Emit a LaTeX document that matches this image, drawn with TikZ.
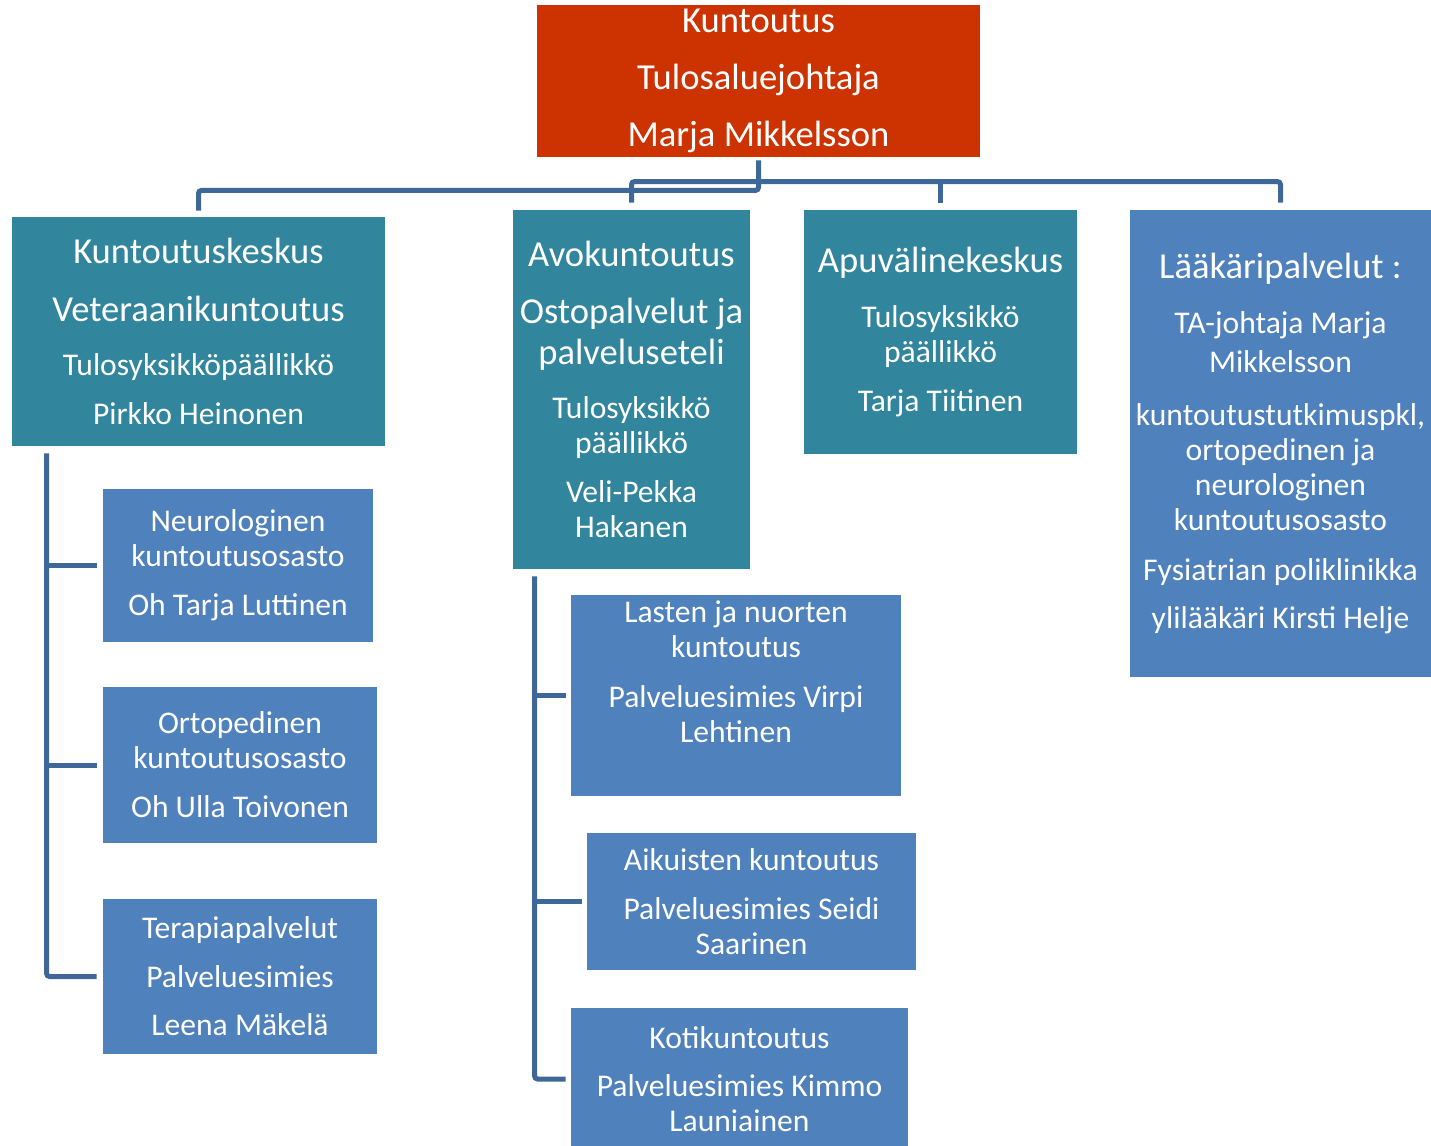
\documentclass[tikz,border=0pt]{standalone}
\usepackage{fontspec}
\setmainfont{Carlito}
\usetikzlibrary{calc}

\definecolor{punainen}{HTML}{CC3300}
\definecolor{turkoosi}{HTML}{31859C}
\definecolor{sininen}{HTML}{4F81BD}
\definecolor{viiva}{HTML}{3F6797}

\newcommand{\isot}{\fontsize{18.3}{17.5}\selectfont}
\newcommand{\pienet}{\fontsize{15.8}{17.5}\selectfont}

\tikzset{
	laatikko/.style={rectangle, inner sep=0pt, align=center, text=white, font=\pienet},
	paa/.style={laatikko, fill=punainen, font=\isot},
	yksikko/.style={laatikko, fill=turkoosi},
	osasto/.style={laatikko, fill=sininen},
	yhteys/.style={draw=viiva, line width=2.5pt, rounded corners=1.5pt}
}

\begin{document}
\begin{tikzpicture}[x=0.5pt, y=-0.5pt]
		\useasboundingbox (0,0) rectangle (1431,1146);
		% ylin taso
		\node[paa, minimum width=221.5pt, minimum height=76pt] (ylin) at (758.5,81) {Kuntoutus\\[11pt]Tulosaluejohtaja\\[11pt]Marja Mikkelsson};
		% tulosyksikot
		\node[yksikko, minimum width=186.5pt, minimum height=114.5pt] (kesk) at (198.5,331.5) {{\isot Kuntoutuskeskus}\\[11.5pt]{\isot Veteraanikuntoutus}\\[9.5pt]Tulosyksikköpäällikkö\\[7pt]Pirkko Heinonen};
		\node[yksikko, minimum width=118.5pt, minimum height=179.5pt] (avo) at (631.5,389.5) {{\isot Avokuntoutus}\\[11pt]{\isot Ostopalvelut ja}\\[3pt]{\isot palveluseteli}\\[9.5pt]Tulosyksikkö\\päällikkö\\[7pt]Veli-Pekka\\Hakanen};
		\node[yksikko, minimum width=136.5pt, minimum height=122pt] (apu) at (940.5,332) {{\isot Apuvälinekeskus}\\[10pt]Tulosyksikkö\\päällikkö\\[7pt]Tarja Tiitinen};
		\node[osasto, minimum width=150.5pt, minimum height=233.5pt] (laak) at (1280.5,443.5) {{\isot Lääkäripalvelut :}\\[10pt]TA-johtaja Marja\\[2pt]Mikkelsson\\[9pt]kuntoutustutkimuspkl,\\ortopedinen ja\\neurologinen\\kuntoutusosasto\\[7.5pt]Fysiatrian poliklinikka\\[6.5pt]ylilääkäri Kirsti Helje};
		% osastot
		\node[osasto, minimum width=135pt, minimum height=76.5pt] (neuro) at (238,565.5) {Neurologinen\\kuntoutusosasto\\[7pt]Oh Tarja Luttinen};
		\node[osasto, minimum width=137pt, minimum height=78pt] (orto) at (240,765) {Ortopedinen\\kuntoutusosasto\\[7pt]Oh Ulla Toivonen};
		\node[osasto, minimum width=137pt, minimum height=77.5pt] (terapia) at (240,976.5) {Terapiapalvelut\\[7pt]Palveluesimies\\[6.5pt]Leena Mäkelä};
		\node[osasto, minimum width=165pt, minimum height=100.5pt] (lapset) at (736,695.5) {Lasten ja nuorten\\kuntoutus\\[7.5pt]Palveluesimies Virpi\\Lehtinen\\[1.5pt]\strut};
		\node[osasto, minimum width=164.5pt, minimum height=68.5pt] (aikuiset) at (751.5,901.5) {Aikuisten kuntoutus\\[7pt]Palveluesimies Seidi\\Saarinen};
		\node[osasto, minimum width=168.5pt, minimum height=71pt] (koti) at (739.5,1079) {Kotikuntoutus\\[6.5pt]Palveluesimies Kimmo\\Launiainen};
		% yhteydet ylimpaan
		\draw[yhteys] ($(ylin.south)+(0,3)$) -- ($(ylin.south)+(0,33)$) -| ($(kesk.north)+(0,-6)$);
		\draw[yhteys] ($(avo.north)+(0,-7)$) -- ($(avo.north)+(0,-28)$) -| ($(laak.north)+(0,-7)$);
		\draw[yhteys] ($(apu.north)+(0,-28)$) -- ($(apu.north)+(0,-7)$);
		% kuntoutuskeskuksen osastot
		\coordinate (vasen) at ($(kesk.south west)+(35,7)$);
		\draw[yhteys] (vasen) |- ($(terapia.west)+(-6,0)$);
		\foreach \osa in {neuro, orto} \draw[yhteys] (vasen |- \osa.west) -- ($(\osa.west)+(-6,0)$);
		% avokuntoutuksen osastot
		\coordinate (keski) at ($(avo.south west)+(22,7)$);
		\draw[yhteys] (keski) |- ($(koti.west)+(-5,0)$);
		\foreach \osa in {lapset, aikuiset} \draw[yhteys] (keski |- \osa.west) -- ($(\osa.west)+(-5,0)$);
	\end{tikzpicture}
\end{document}
